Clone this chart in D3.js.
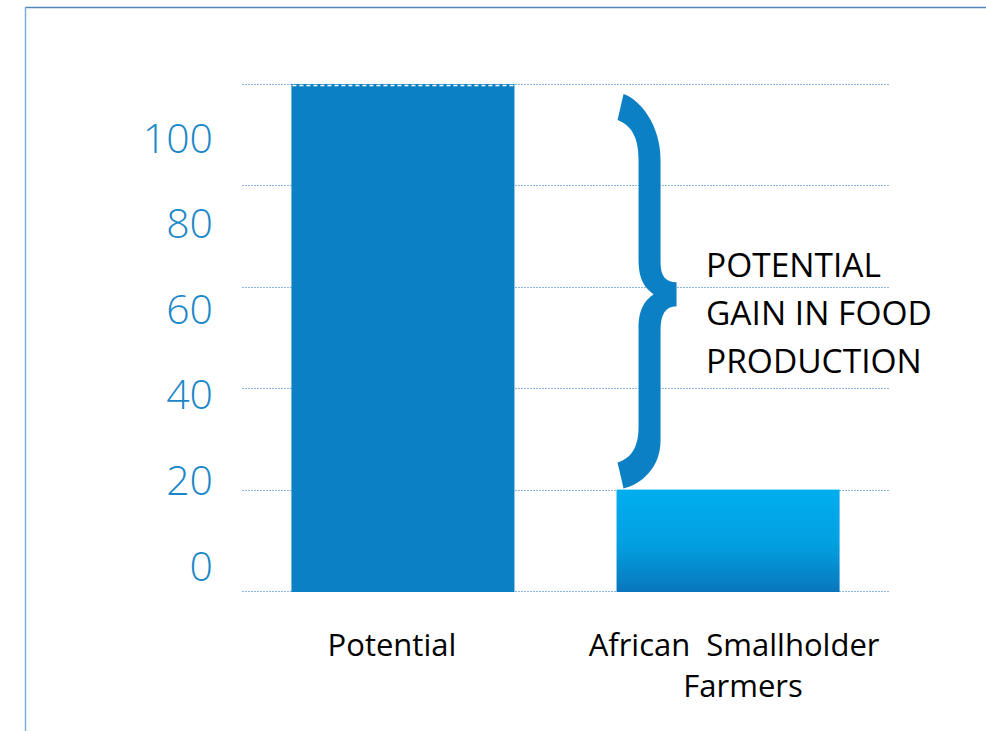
<!DOCTYPE html>
<html>
<head>
<meta charset="utf-8">
<script src="https://cdn.jsdelivr.net/npm/d3@7"></script>
<style>
  html, body { margin: 0; padding: 0; background: #ffffff; }
  svg { display: block; }
  text { font-family: "Open Sans", "Noto Sans", sans-serif; white-space: pre; }
</style>
</head>
<body>
<svg id="chart" width="986" height="731"></svg>
<script>
// ---- data ----
const categories = ["Potential", "African  Smallholder Farmers"];
const categoryLines = [["Potential"], ["African  Smallholder", "Farmers"]];
const values = [100, 20];
const tickValues = [0, 20, 40, 60, 80, 100];
const annotationLines = ["POTENTIAL", "GAIN IN FOOD", "PRODUCTION"];

const svg = d3.select("#chart");
const W = 986, H = 731;

// frame
svg.append("line").attr("x1", 25).attr("x2", W).attr("y1", 7.5).attr("y2", 7.5)
  .attr("stroke", "#4f86ba").attr("stroke-width", 1.5);
svg.append("line").attr("x1", 25.5).attr("x2", 25.5).attr("y1", 7).attr("y2", H)
  .attr("stroke", "#7daee0").attr("stroke-width", 1.5);

// scales
const y = d3.scaleLinear().domain([0, 100]).range([591, 84]);
const yLabel = d3.scaleLinear().domain([0, 100]).range([580, 152]);
const x = d3.scaleBand().domain(categories).range([242, 889])
  .paddingInner(0.314).paddingOuter(0.152);

const defs = svg.append("defs");
const grad = defs.append("linearGradient").attr("id", "gAfr")
  .attr("x1", 0).attr("y1", 0).attr("x2", 0).attr("y2", 1);
grad.append("stop").attr("offset", "0%").attr("stop-color", "#00aeef");
grad.append("stop").attr("offset", "55%").attr("stop-color", "#029fe0");
grad.append("stop").attr("offset", "100%").attr("stop-color", "#0a76bd");

// gridlines
svg.append("g").selectAll("line").data(tickValues).join("line")
  .attr("x1", 242).attr("x2", 889)
  .attr("y1", d => Math.round(y(d)) + 0.5).attr("y2", d => Math.round(y(d)) + 0.5)
  .attr("stroke", "#8fb6de").attr("stroke-width", 1.2)
  .attr("stroke-dasharray", "2,1");

// y tick labels
const yAxis = d3.axisLeft(yLabel).tickValues(tickValues).tickSize(0).tickPadding(0)
  .tickFormat(d3.format("d"));
const gy = svg.append("g").attr("transform", "translate(213,0)").call(yAxis);
gy.select(".domain").remove();
gy.selectAll("text")
  .attr("dy", 0)
  .attr("fill", "#1a87c9")
  .style("font-size", "41px")
  .style("font-weight", 300)
  .style("font-family", "'Open Sans', sans-serif");

// bars
const fills = ["#0c80c4", "url(#gAfr)"];
svg.append("g").selectAll("rect").data(values).join("rect")
  .attr("x", (d, i) => x(categories[i]))
  .attr("width", x.bandwidth())
  .attr("y", d => y(d))
  .attr("height", d => y(0) - y(d) + 1)
  .attr("fill", (d, i) => fills[i]);

// white dashed top edge on the potential bar (gridline over bar)
svg.append("line")
  .attr("x1", x(categories[0]) + 1).attr("x2", x(categories[0]) + x.bandwidth() - 1)
  .attr("y1", y(values[0]) + 1.5).attr("y2", y(values[0]) + 1.5)
  .attr("stroke", "#ffffff").attr("stroke-width", 1.5)
  .attr("stroke-dasharray", "4,3");

// brace between the two values
const T = y(values[0]) + 10, B = y(values[1]) - 1, M = (T + B) / 2 + 3;
const X0 = x(categories[1]) + 1;
const p = d3.path();
p.moveTo(X0 + 6, T);
p.bezierCurveTo(X0 + 23, T + 6, X0 + 43, T + 31, X0 + 43, T + 66);
p.lineTo(X0 + 43, M - 32);
p.bezierCurveTo(X0 + 43, M - 18, X0 + 48, M - 12, X0 + 59, M - 12);
p.lineTo(X0 + 59, M + 12);
p.bezierCurveTo(X0 + 48, M + 12, X0 + 43, M + 20, X0 + 43, M + 36);
p.lineTo(X0 + 43, B - 48);
p.bezierCurveTo(X0 + 43, B - 20, X0 + 23, B - 4, X0 + 6, B);
p.lineTo(X0, B - 26);
p.bezierCurveTo(X0 + 13, B - 30, X0 + 21, B - 40, X0 + 21, B - 62);
p.lineTo(X0 + 21, M + 34);
p.bezierCurveTo(X0 + 21, M + 14, X0 + 28, M + 6, X0 + 36, M);
p.bezierCurveTo(X0 + 28, M - 6, X0 + 21, M - 14, X0 + 21, M - 34);
p.lineTo(X0 + 21, T + 66);
p.bezierCurveTo(X0 + 21, T + 42, X0 + 13, T + 31, X0, T + 26);
p.closePath();
svg.append("path").attr("d", p.toString()).attr("fill", "#0c80c4");

// annotation text
svg.append("g").selectAll("text").data(annotationLines).join("text")
  .attr("x", 706)
  .attr("y", (d, i) => 277 + i * 48)
  .attr("fill", "#000000")
  .style("font-size", "33.5px")
  .text(d => d);

// category labels
const catG = svg.append("g");
categoryLines.forEach((lines, i) => {
  const cx = x(categories[i]) + x.bandwidth() / 2 + (i === 0 ? -11 : 6);
  catG.append("text")
    .attr("text-anchor", "middle")
    .attr("x", cx)
    .attr("y", 656)
    .attr("fill", "#000000")
    .style("font-size", "31px")
    .selectAll("tspan").data(lines).join("tspan")
    .attr("x", (d, j) => cx + (j === 1 ? 9 : 0))
    .attr("dy", (d, j) => j === 0 ? 0 : 41)
    .text(d => d);
});
</script>
</body>
</html>
